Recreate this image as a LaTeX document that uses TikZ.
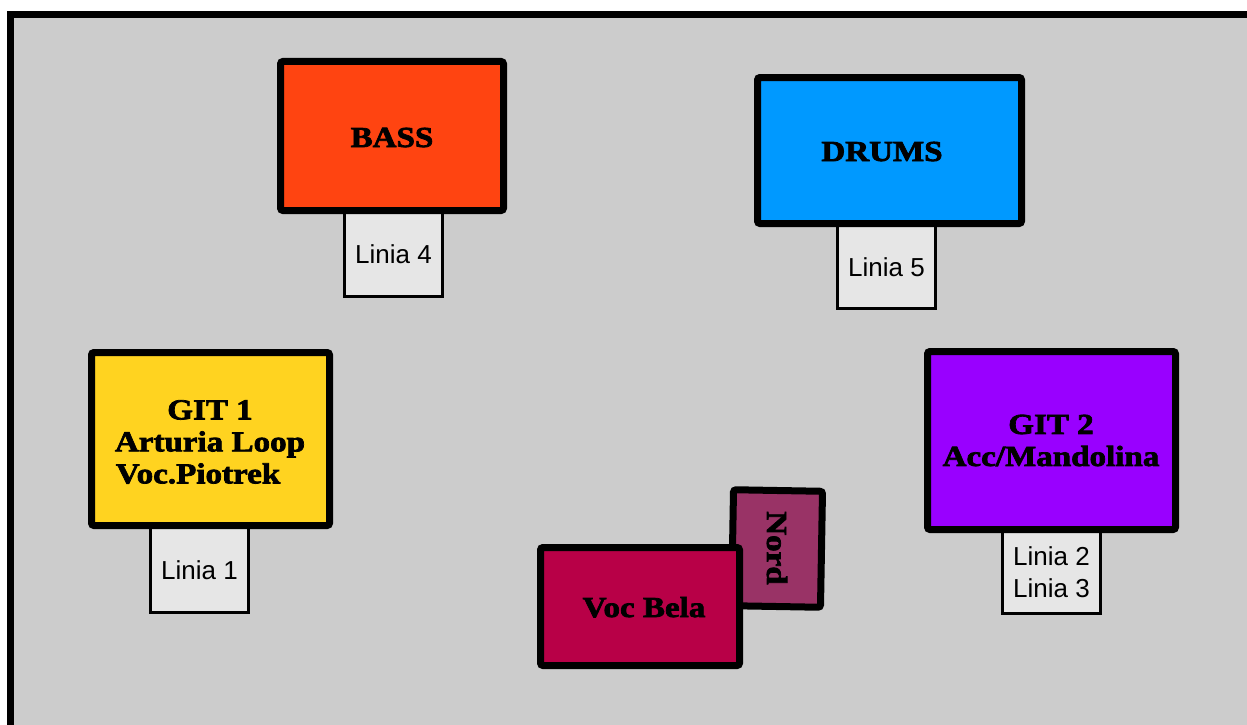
\documentclass[tikz,border=0pt]{standalone}
\usepackage{fontspec}
\setmainfont{Liberation Sans}
\newfontfamily\headfont{Liberation Serif}[FakeStretch=1.14,BoldFeatures={FakeBold=2.5}]
\definecolor{bgray}{HTML}{CCCCCC}
\definecolor{liniafill}{HTML}{E6E6E6}
\definecolor{bassfill}{HTML}{FF4411}
\definecolor{drumsfill}{HTML}{0099FF}
\definecolor{gitonefill}{HTML}{FFD320}
\definecolor{gittwofill}{HTML}{9900FF}
\definecolor{vocfill}{HTML}{B80047}
\definecolor{nordfill}{HTML}{993366}
\begin{document}
\begin{tikzpicture}[x=1pt,y=-1pt,
  bigbox/.style={draw=black, line width=7pt, rounded corners=2.5pt, inner sep=0pt, outer sep=0pt},
  smallbox/.style={draw=black, line width=3pt, fill=liniafill, inner sep=0pt, outer sep=0pt,
    font=\fontsize{26}{32}\selectfont, align=center},
  headtext/.style={font=\headfont\bfseries\fontsize{29}{32}\selectfont, align=center, inner sep=0pt}]
\useasboundingbox (0,0) rectangle (1247,725);
% stage background with border
\fill[black] (7,11) rectangle (1247,725);
\fill[bgray] (14,18) rectangle (1247,725);

% line boxes (behind the instrument boxes)
\node[smallbox, minimum width=98pt, minimum height=84pt] (l4) at (393.5,254.5) {Linia 4};
\node[smallbox, minimum width=98pt, minimum height=83pt] (l5) at (886.5,267) {Linia 5};
\node[smallbox, minimum width=98pt, minimum height=85pt] (l1) at (199.5,570) {Linia 1};
\node[smallbox, minimum width=98pt, minimum height=82pt] (l23) at (1051.5,572) {Linia 2\\Linia 3};

% instrument boxes
\node[bigbox, fill=bassfill, minimum width=223pt, minimum height=149pt] (bass) at (392,136) {};
\node[bigbox, fill=drumsfill, minimum width=264pt, minimum height=146pt] (drums) at (889.5,150.5) {};
\node[bigbox, fill=gitonefill, minimum width=238pt, minimum height=173pt] (git1) at (210.5,439) {};
\node[bigbox, fill=gittwofill, minimum width=248pt, minimum height=178pt] (git2) at (1051.5,440.5) {};
\node[bigbox, fill=nordfill, minimum width=89pt, minimum height=116pt, rotate=-1] (nord) at (777,548.5) {};
\node[bigbox, fill=vocfill, minimum width=199pt, minimum height=118pt] (voc) at (640,606.5) {};

% labels
\node[headtext, anchor=base] (tbass) at (392,147) {BASS};
\node[headtext, anchor=base] (tdrums) at (882,161) {DRUMS};
\node[headtext] (tgit1) at (210,442) {GIT 1\\Arturia Loop\\Voc.Piotrek\hspace*{24pt}};
\node[headtext] (tgit2) at (1051,440.5) {GIT 2\\Acc/Mandolina};
\node[headtext, anchor=base] (tvoc) at (644,617) {Voc Bela};
\node[headtext, rotate=-90] (tnord) at (777,548) {Nord};
\end{tikzpicture}
\end{document}
